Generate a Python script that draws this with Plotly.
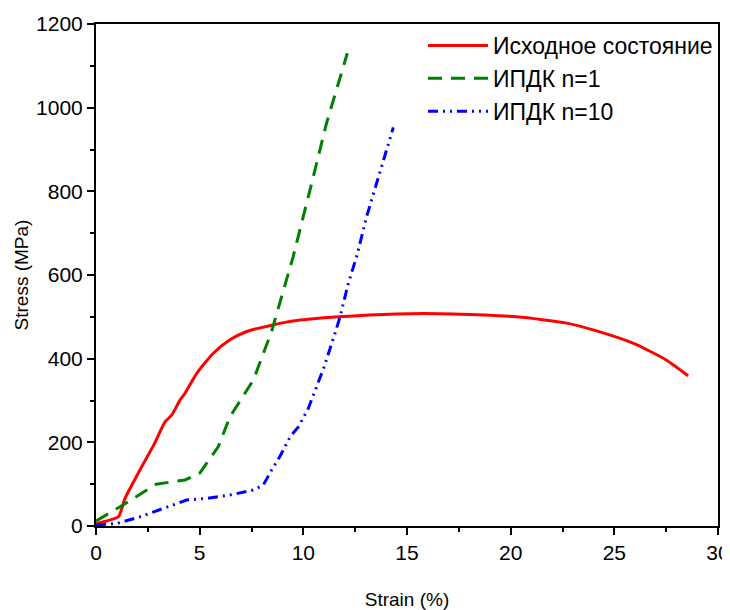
import plotly.graph_objects as go

# --- data ---
strain_initial = [0.0, 0.5, 1.08, 1.4, 2.12, 2.8, 3.33, 3.65, 4.05, 4.29, 4.86, 5.66, 6.46, 7.27,
                  8.47, 9.68, 11.69, 14.5, 17.2, 20.29, 22.7, 24.3, 25.9, 27.5, 28.56]
stress_initial = [5, 12, 22, 66, 134, 195, 249, 265, 301, 317, 365, 413, 445, 465,
                  480, 491, 500, 507, 507, 500, 485, 464, 437, 397, 359]

strain_n1 = [0.0, 1.3, 2.9, 4.29, 5.0, 5.9, 6.46, 7.59, 8.47, 8.95, 9.51, 10.32, 11.12, 12.12]
stress_n1 = [12, 50, 100, 110, 126, 190, 261, 349, 465, 548, 644, 803, 963, 1130]

strain_n10 = [0.0, 1.0, 2.12, 3.41, 4.37, 5.34, 6.46, 7.59, 8.07, 8.47, 8.87, 9.36, 9.76, 10.24,
              11.0, 11.53, 11.77, 12.17, 12.57, 13.05, 13.53, 13.94, 14.34]
stress_n10 = [2, 6, 22, 46, 62, 66, 74, 86, 98, 134, 166, 213, 237, 281,
              380, 461, 500, 580, 644, 739, 819, 891, 953]

names = ["Исходное состояние", "ИПДК n=1", "ИПДК n=10"]

FONT = "Liberation Sans, Arial"

fig = go.Figure()
fig.add_trace(go.Scatter(x=strain_initial, y=stress_initial, mode="lines", name=names[0],
                         legendgroup="a", line=dict(color="#ff0000", width=3, shape="spline", smoothing=0.6)))
fig.add_trace(go.Scatter(x=strain_n1, y=stress_n1, mode="lines", name=names[1],
                         legendgroup="b", line=dict(color="#008000", width=3, dash="14px,9px")))
fig.add_trace(go.Scatter(x=strain_n10, y=stress_n10, mode="lines", name=names[2],
                         legendgroup="c",
                         line=dict(color="#0000ff", width=3, dash="10px,5px,2px,5px,2px,5px")))

axis_common = dict(
    showline=True, linecolor="black", linewidth=2, mirror=True,
    showgrid=False, zeroline=False, automargin=False,
    ticks="outside", ticklen=7, tickwidth=2, tickcolor="black",
    tickfont=dict(family=FONT, size=21, color="black"),
    minor=dict(ticks="outside", ticklen=4, tickwidth=2, tickcolor="black"),
)

fig.update_xaxes(range=[0, 30], dtick=5, minor_dtick=2.5,
                 title=dict(text="Strain (%)", standoff=30,
                            font=dict(family=FONT, size=19, color="black")),
                 **axis_common)
fig.update_yaxes(range=[0, 1200], dtick=200, minor_dtick=100,
                 title=dict(text="Stress (MPa)", standoff=2,
                            font=dict(family=FONT, size=19, color="black")),
                 **axis_common)

# page body has an 8px margin, so the figure is a bit smaller than the window
fig.update_layout(
    width=722, height=602,
    margin=dict(l=88, r=12, t=16, b=84),
    plot_bgcolor="white", paper_bgcolor="white",
    legend=dict(x=1, y=1, xanchor="right", yanchor="top", bgcolor="rgba(0,0,0,0)",
                font=dict(family=FONT, size=23, color="black"),
                itemwidth=60, tracegroupgap=0),
)

fig.write_html("out.html")
